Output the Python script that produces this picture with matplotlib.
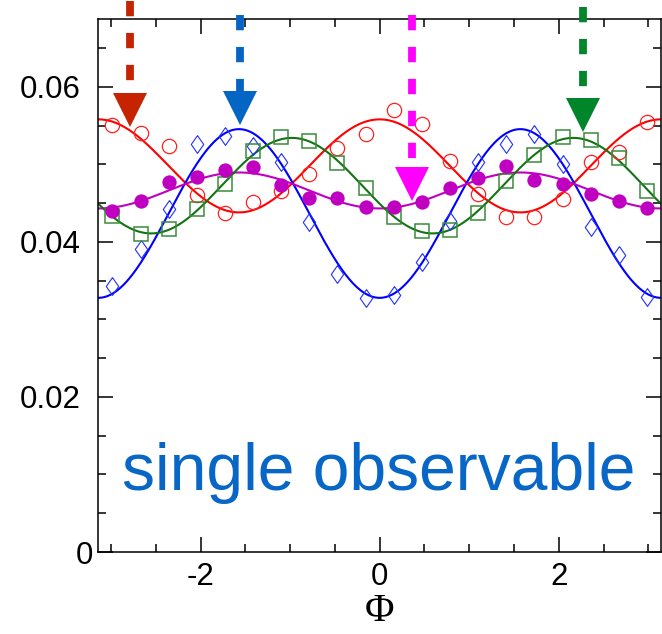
import numpy as np
import matplotlib
matplotlib.use("Agg")
import matplotlib.pyplot as plt
import matplotlib.transforms as mtransforms
from matplotlib.ticker import MultipleLocator, FixedLocator, FuncFormatter

plt.rcParams['font.family'] = ['Liberation Sans', 'DejaVu Sans']
plt.rcParams['axes.unicode_minus'] = False
plt.rcParams['lines.scale_dashes'] = False

# phase values of the measured points
phi = [-2.9845, -2.6704, -2.3562, -2.0420, -1.7279, -1.4137, -1.0996, -0.7854, -0.4712, -0.1571,
       0.1571, 0.4712, 0.7854, 1.0996, 1.4137, 1.7279, 2.0420, 2.3562, 2.6704, 2.9845]

red_pts = [0.0551, 0.0541, 0.0523, 0.0461, 0.0437, 0.0451, 0.0465, 0.0487, 0.0521, 0.0539,
           0.0570, 0.0552, 0.0504, 0.0462, 0.0432, 0.0432, 0.0455, 0.0503, 0.0516, 0.0554]
blue_pts = [0.0343, 0.0391, 0.0442, 0.0526, 0.0537, 0.0524, 0.0503, 0.0426, 0.0358, 0.0328,
            0.0331, 0.0374, 0.0427, 0.0503, 0.0526, 0.0539, 0.0500, 0.0419, 0.0383, 0.0329]
magenta_pts = [0.0440, 0.0453, 0.0477, 0.0484, 0.0493, 0.0496, 0.0473, 0.0457, 0.0457, 0.0445,
               0.0445, 0.0452, 0.0470, 0.0482, 0.0498, 0.0480, 0.0474, 0.0462, 0.0453, 0.0444]
green_pts = [0.0434, 0.0410, 0.0416, 0.0442, 0.0475, 0.0517, 0.0535, 0.0530, 0.0502, 0.0469,
             0.0432, 0.0414, 0.0415, 0.0437, 0.0478, 0.0512, 0.0535, 0.0532, 0.0508, 0.0466]

# cosine fits y = mean + amp*cos(2*(phi - phase))
fit_mean = [0.0498, 0.04366, 0.04663, 0.04725]
fit_amp = [0.0060, 0.01088, 0.00232, 0.00616]
fit_phase = [0.0, 1.5708, 1.5708, -0.98]

# arrows marking the phases
arrow_phi = [-2.793, -1.555, 0.365, 2.274]
arrow_y = [0.05702, 0.05730, 0.04751, 0.05638]

line_colors = ['#ff0000', '#0000ff', '#c000c0', '#137313']
arrow_colors = ['#c62400', '#0565c4', '#ff00ff', '#00852a']
dash_top = [0.07103, 0.06923, 0.06923, 0.07026]

fig = plt.figure(figsize=(6.62, 6.34), dpi=100)
ax = fig.add_axes([0.1485, 0.1293, 0.85, 0.8402])

phi_fine = np.linspace(-np.pi, np.pi, 400)
for m, a, p, c in zip(fit_mean, fit_amp, fit_phase, line_colors):
    ax.plot(phi_fine, m + a * np.cos(2 * (phi_fine - p)), color=c, lw=1.5, zorder=2)

thin_diamond = [(0, 1), (0.7, 0), (0, -1), (-0.7, 0), (0, 1)]
ax.plot(phi, red_pts, 'o', mfc='none', mec='#ff2020', ms=10.3, mew=0.9, zorder=3)
ax.plot(phi, blue_pts, marker=thin_diamond, ls='none', mfc='none', mec='#2030ff', ms=12.8, mew=0.8, zorder=3)
ax.plot(phi, green_pts, 's', mfc='none', mec='#3a8a3a', ms=10.3, mew=1.1, zorder=3)
ax.plot(phi, magenta_pts, 'o', color='#c000c0', ms=10.3, mew=0, zorder=3)

for x, yt, ys, col in zip(arrow_phi, arrow_y, dash_top, arrow_colors):
    ax.plot([x, x], [ys, yt], color=col, lw=5.6, dashes=(11, 12), clip_on=False, zorder=4)
    ax.plot(x, yt, marker='v', ms=24.5, color=col, mew=0, clip_on=False, zorder=4)

ax.text(0.042, 0.1164, 'single observable', transform=ax.transAxes, fontsize=47.5,
        color='#0766c6', va='baseline')

ax.set_xlim(-np.pi, np.pi)
ax.set_ylim(0, 0.0687)
ax.xaxis.set_major_locator(MultipleLocator(2))
ax.xaxis.set_minor_locator(MultipleLocator(0.5))
ax.yaxis.set_major_locator(FixedLocator([0, 0.02, 0.04, 0.06]))
ax.yaxis.set_minor_locator(MultipleLocator(0.005))
ax.yaxis.set_major_formatter(FuncFormatter(lambda v, pos: '0' if v == 0 else f'{v:.2f}'))
ax.tick_params(which='both', direction='in', top=True, right=True, width=1.1)
ax.tick_params(which='major', length=11)
ax.tick_params(which='minor', length=5.8)
ax.tick_params(axis='y', labelsize=22.5, pad=13)
ax.tick_params(axis='x', labelsize=22.5, pad=7)
for s in ax.spines.values():
    s.set_linewidth(1.1)

ax.set_xlabel('Φ', fontsize=29, family=['Liberation Serif', 'DejaVu Serif'], labelpad=1)

# the "0" label sits closer to the axis
lab0 = ax.yaxis.get_major_ticks()[0].label1
lab0.set_transform(lab0.get_transform() + mtransforms.ScaledTranslation(0.13, 0, fig.dpi_scale_trans))

fig.savefig('out.png', dpi=100)
